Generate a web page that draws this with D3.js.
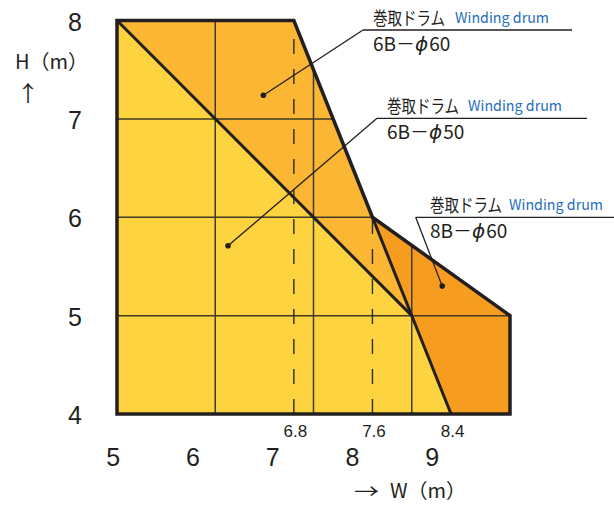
<!DOCTYPE html>
<html>
<head>
<meta charset="utf-8">
<script src="https://cdn.jsdelivr.net/npm/d3@7"></script>
<style>
  body { margin: 0; background: #fff; }
  svg { display: block; }
</style>
</head>
<body>
<svg width="614" height="507"></svg>
<script>
// ticks and marks
var xTicks = [5, 6, 7, 8, 9],
    yTicks = [4, 5, 6, 7, 8],
    markTicks = [6.8, 7.6, 8.4],
    dashTicks = [6.8, 7.6],
    gridX = [6, 7, 8],
    gridY = [5, 6, 7];

// regions (W, H)
var drum6B60 = [[5, 8], [6.8, 8], [8, 5]],
    drum6B50 = [[5, 8], [8, 5], [8.4, 4], [5, 4]],
    drum8B60 = [[7.6, 6], [9, 5], [9, 4], [8.4, 4], [8, 5]],
    outline = [[5, 8], [6.8, 8], [7.6, 6], [9, 5], [9, 4], [5, 4]],
    innerLines = [[[5, 8], [8, 5]], [[7.6, 6], [8.4, 4]]];

var drumNames = [['6B－', 'ϕ', '60'], ['6B－', 'ϕ', '50'], ['8B－', 'ϕ', '60']],
    drumDots = [[6.49, 7.24], [6.13, 5.71], [8.31, 5.30]];

var svg = d3.select('svg');

var x = d3.scaleLinear().domain([5, 9]).range([117, 510]);
var y = d3.scaleLinear().domain([4, 8]).range([414, 20.5]);
// the bottom labels sit on their own spacing in the original
var xLab = d3.scaleLinear().domain([5, 9]).range([113.3, 432.3]);

var line = d3.line()
    .x((d) => { return x(d[0]) })
    .y((d) => { return y(d[1]) });

var fills = [
    { pts: drum6B50, color: '#fdd43f' },
    { pts: drum6B60, color: '#fbb634' },
    { pts: drum8B60, color: '#f69d20' }
];

svg.selectAll('path.fill').data(fills).enter()
    .append('path')
    .attr('class', 'fill')
    .attr('d', (d) => { return line(d.pts) + 'Z' })
    .attr('fill', (d) => { return d.color })
    .attr('stroke', (d) => { return d.color })
    .attr('stroke-width', 0.5);

svg.append('clipPath').attr('id', 'clip')
    .append('path').attr('d', line(outline) + 'Z');

var grid = svg.append('g').attr('clip-path', 'url(#clip)')
    .attr('stroke', '#3e3b26').attr('stroke-width', 1.5);

grid.selectAll('line.vx').data(gridX).enter()
    .append('line')
    .attr('x1', (d) => { return x(d) })
    .attr('x2', (d) => { return x(d) })
    .attr('y1', y(8)).attr('y2', y(4));

grid.selectAll('line.hy').data(gridY).enter()
    .append('line')
    .attr('class', 'hy')
    .attr('y1', (d) => { return y(d) })
    .attr('y2', (d) => { return y(d) })
    .attr('x1', x(5)).attr('x2', x(9));

grid.selectAll('line.dash').data(dashTicks).enter()
    .append('line')
    .attr('class', 'dash')
    .attr('x1', (d) => { return x(d) })
    .attr('x2', (d) => { return x(d) })
    .attr('y1', y(4)).attr('y2', y(8))
    .attr('stroke', '#2a2a2a')
    .attr('stroke-width', 1.4)
    .attr('stroke-dasharray', '15,15');

svg.selectAll('path.inner').data(innerLines).enter()
    .append('path')
    .attr('class', 'inner')
    .attr('d', (d) => { return line(d) })
    .attr('fill', 'none')
    .attr('stroke', '#231f20')
    .attr('stroke-width', 3);

svg.append('path')
    .attr('d', line(outline) + 'Z')
    .attr('fill', 'none')
    .attr('stroke', '#231f20')
    .attr('stroke-width', 3.5)
    .attr('stroke-linejoin', 'miter');

// axis labels
svg.selectAll('text.ylab').data(yTicks).enter()
    .append('text')
    .attr('class', 'ylab')
    .attr('x', 75)
    .attr('y', (d) => { return y(d) + 10 })
    .attr('text-anchor', 'middle')
    .attr('font-family', 'Liberation Sans, Arial, sans-serif')
    .attr('font-size', 25)
    .attr('fill', '#231f20')
    .text((d) => { return d });

svg.selectAll('text.xlab').data(xTicks).enter()
    .append('text')
    .attr('class', 'xlab')
    .attr('x', (d) => { return xLab(d) })
    .attr('y', 465.7)
    .attr('text-anchor', 'middle')
    .attr('font-family', 'Liberation Sans, Arial, sans-serif')
    .attr('font-size', 25)
    .attr('fill', '#231f20')
    .text((d) => { return d });

svg.selectAll('text.mark').data(markTicks).enter()
    .append('text')
    .attr('class', 'mark')
    .attr('x', (d) => { return x(d) + 1.5 })
    .attr('y', 437)
    .attr('text-anchor', 'middle')
    .attr('font-family', 'Liberation Sans Narrow, Liberation Sans, sans-serif')
    .attr('font-size', 17)
    .attr('fill', '#231f20')
    .text((d) => { return d.toFixed(1) });

svg.append('text')
    .attr('x', 15).attr('y', 69)
    .attr('font-family', 'Noto Sans CJK JP, sans-serif')
    .attr('font-size', 20)
    .attr('fill', '#231f20')
    .text('H（m）');

svg.append('text')
    .attr('x', 28).attr('y', 101)
    .attr('text-anchor', 'middle')
    .attr('font-family', 'Noto Sans CJK JP, sans-serif')
    .attr('font-size', 22)
    .attr('fill', '#231f20')
    .text('↑');

svg.append('text')
    .attr('x', 354).attr('y', 499)
    .attr('font-family', 'Noto Sans CJK JP, sans-serif')
    .attr('font-size', 20)
    .attr('textLength', 25)
    .attr('lengthAdjust', 'spacingAndGlyphs')
    .attr('fill', '#231f20')
    .text('→');

svg.append('text')
    .attr('x', 390).attr('y', 498)
    .attr('font-family', 'Noto Sans CJK JP, sans-serif')
    .attr('font-size', 20)
    .attr('fill', '#231f20')
    .text('W（m）');

// callouts
var callouts = [
    { x0: 363, x1: 572, yl: 30 },
    { x0: 377, x1: 587, yl: 118.3 },
    { x0: 415.7, x1: 614, yl: 217.3 }
];

callouts.forEach((c, i) => {
    var g = svg.append('g');
    var dot = drumDots[i];
    g.append('line')
        .attr('x1', c.x0).attr('x2', c.x1)
        .attr('y1', c.yl).attr('y2', c.yl)
        .attr('stroke', '#231f20').attr('stroke-width', 1.3);
    g.append('line')
        .attr('x1', c.x0).attr('y1', c.yl)
        .attr('x2', x(dot[0])).attr('y2', y(dot[1]))
        .attr('stroke', '#231f20').attr('stroke-width', 1.3);
    g.append('circle')
        .attr('cx', x(dot[0])).attr('cy', y(dot[1]))
        .attr('r', 2.8).attr('fill', '#231f20');
    var tx = c.x0 + (i == 2 ? 14.3 : 10);
    // narrow, tall lettering as in the original
    g.append('text')
        .attr('transform', 'translate(' + tx + ',' + (c.yl - 5) + ') scale(1,1.24)')
        .attr('font-family', 'Noto Sans CJK JP, sans-serif')
        .attr('font-size', 14.5)
        .attr('fill', '#231f20')
        .text('巻取ドラム');
    g.append('text')
        .attr('x', tx + (i == 0 ? 82 : (i == 1 ? 81 : 79))).attr('y', c.yl - 7)
        .attr('font-family', 'Noto Sans CJK JP, sans-serif')
        .attr('font-size', 14.5)
        .attr('textLength', 94)
        .attr('lengthAdjust', 'spacingAndGlyphs')
        .attr('fill', '#1f6fbd')
        .text('Winding drum');
    var t = g.append('text')
        .attr('x', tx).attr('y', c.yl + 21)
        .attr('font-family', 'Noto Sans CJK JP, sans-serif')
        .attr('font-size', 19)
        .attr('fill', '#231f20');
    t.append('tspan').text(drumNames[i][0]);
    t.append('tspan').attr('font-style', 'italic').attr('font-size', 20)
        .attr('font-family', 'DejaVu Sans, sans-serif').text(drumNames[i][1]);
    t.append('tspan').attr('dx', 1).text(drumNames[i][2]);
});
</script>
</body>
</html>
